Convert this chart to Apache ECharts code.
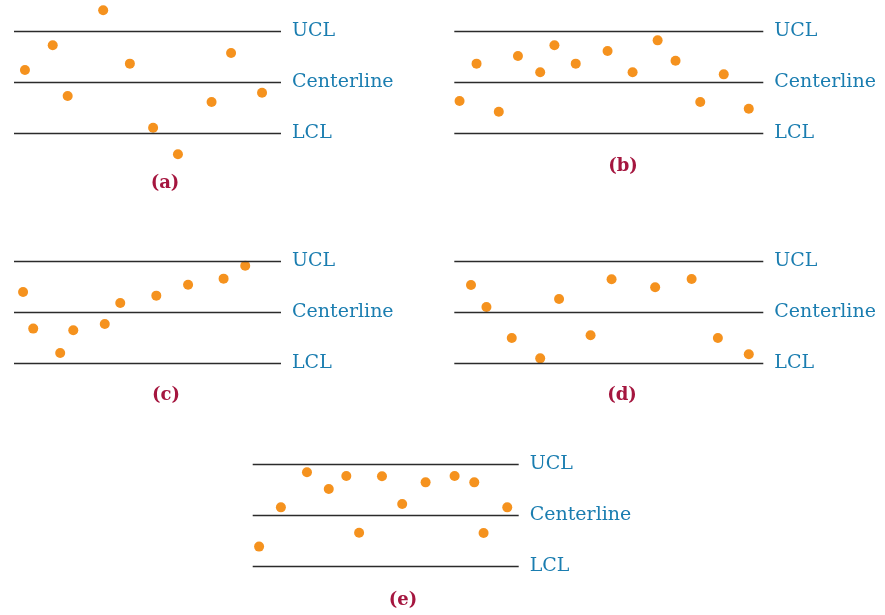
<!DOCTYPE html>
<html>
<head>
<meta charset="utf-8">
<script src="https://cdn.jsdelivr.net/npm/echarts@6/dist/echarts.min.js"></script>
<style>
  html, body { margin: 0; padding: 0; background: #ffffff; }
  #chart { width: 885px; height: 615px; }
</style>
</head>
<body>
<div id="chart"></div>
<script>
// control limits (in sigma units, centerline = 0)
const limitLabels = ['UCL', 'Centerline', 'LCL'];
const limitValues = [3, 0, -3];
const panelNames = ['(a)', '(b)', '(c)', '(d)', '(e)'];

// samples: x = position along the line (0-100), y = value
const aX = [4.1, 14.5, 20.1, 33.4, 43.4, 52.1, 61.4, 74.0, 81.3, 92.9];
const aY = [0.71, 2.16, -0.82, 4.22, 1.08, -2.69, -4.25, -1.18, 1.71, -0.63];

const bX = [1.7, 7.2, 14.4, 20.6, 27.8, 32.4, 39.3, 49.6, 57.7, 65.8, 71.6, 79.6, 87.2, 95.3];
const bY = [-1.12, 1.08, -1.75, 1.53, 0.57, 2.16, 1.08, 1.82, 0.57, 2.45, 1.25, -1.18, 0.45, -1.57];

const cX = [3.4, 7.2, 17.3, 22.2, 34.0, 39.8, 53.3, 65.2, 78.5, 86.6];
const cY = [1.19, -0.96, -2.39, -1.06, -0.69, 0.55, 0.98, 1.62, 1.98, 2.74];

const dX = [5.4, 10.4, 18.6, 27.8, 33.9, 44.1, 50.9, 65.0, 76.8, 85.3, 95.3];
const dY = [1.61, 0.31, -1.51, -2.71, 0.78, -1.35, 1.94, 1.47, 1.96, -1.51, -2.47];

const eX = [2.4, 10.6, 20.4, 28.6, 35.2, 40.0, 48.6, 56.2, 65.0, 75.9, 83.3, 86.8, 95.7];
const eY = [-1.86, 0.45, 2.51, 1.53, 2.29, -1.04, 2.28, 0.65, 1.92, 2.29, 1.92, -1.06, 0.45];

const panelsX = [aX, bX, cX, dX, eX];
const panelsY = [aY, bY, cY, dY, eY];

// layout of each panel (line start, line length, centerline y, caption position)
const layout = [
  {left: 14,    width: 267, mid: 82,    capX: 165, capY: 183},
  {left: 454.3, width: 309, mid: 82,    capX: 623, capY: 166},
  {left: 14,    width: 267, mid: 312.3, capX: 166, capY: 395},
  {left: 454.3, width: 309, mid: 312.3, capX: 622, capY: 395},
  {left: 252.7, width: 266, mid: 515,   capX: 403, capY: 600}
];
const half = 4.5;      // y range each side of centerline
const unitPx = 17;     // px per sigma

var myChart = echarts.init(document.getElementById('chart'), null, {renderer: 'canvas'});

const grids = [], xAxes = [], yAxes = [], series = [], titles = [];
layout.forEach(function (p, i) {
  grids.push({
    left: p.left,
    top: p.mid - half * unitPx,
    width: p.width,
    height: 2 * half * unitPx
  });
  xAxes.push({type: 'value', gridIndex: i, min: 0, max: 100, show: false});
  yAxes.push({type: 'value', gridIndex: i, min: -half, max: half, show: false});
  titles.push({
    text: panelNames[i],
    left: p.capX,
    top: p.capY - 9,
    textAlign: 'center',
    padding: 0,
    textStyle: {
      fontFamily: 'DejaVu Serif',
      fontWeight: 'bold',
      fontSize: 18,
      color: '#a5163f'
    }
  });
  series.push({
    type: 'scatter',
    xAxisIndex: i,
    yAxisIndex: i,
    symbolSize: 10,
    itemStyle: {color: '#f5921e', opacity: 1},
    data: panelsX[i].map(function (x, k) { return [x, panelsY[i][k]]; }),
    markLine: {
      silent: true,
      symbol: 'none',
      animation: false,
      lineStyle: {color: '#2b2b2b', width: 1.4, type: 'solid'},
      label: {
        show: true,
        position: 'end',
        distance: 11,
        fontFamily: 'DejaVu Serif',
        fontSize: 19,
        color: '#1a7db0'
      },
      data: limitValues.map(function (v, k) {
        return {yAxis: v, name: limitLabels[k], label: {formatter: limitLabels[k]}};
      })
    },
    z: 3
  });
});

myChart.setOption({
  backgroundColor: '#ffffff',
  animation: false,
  title: titles,
  grid: grids,
  xAxis: xAxes,
  yAxis: yAxes,
  series: series
});
</script>
</body>
</html>
